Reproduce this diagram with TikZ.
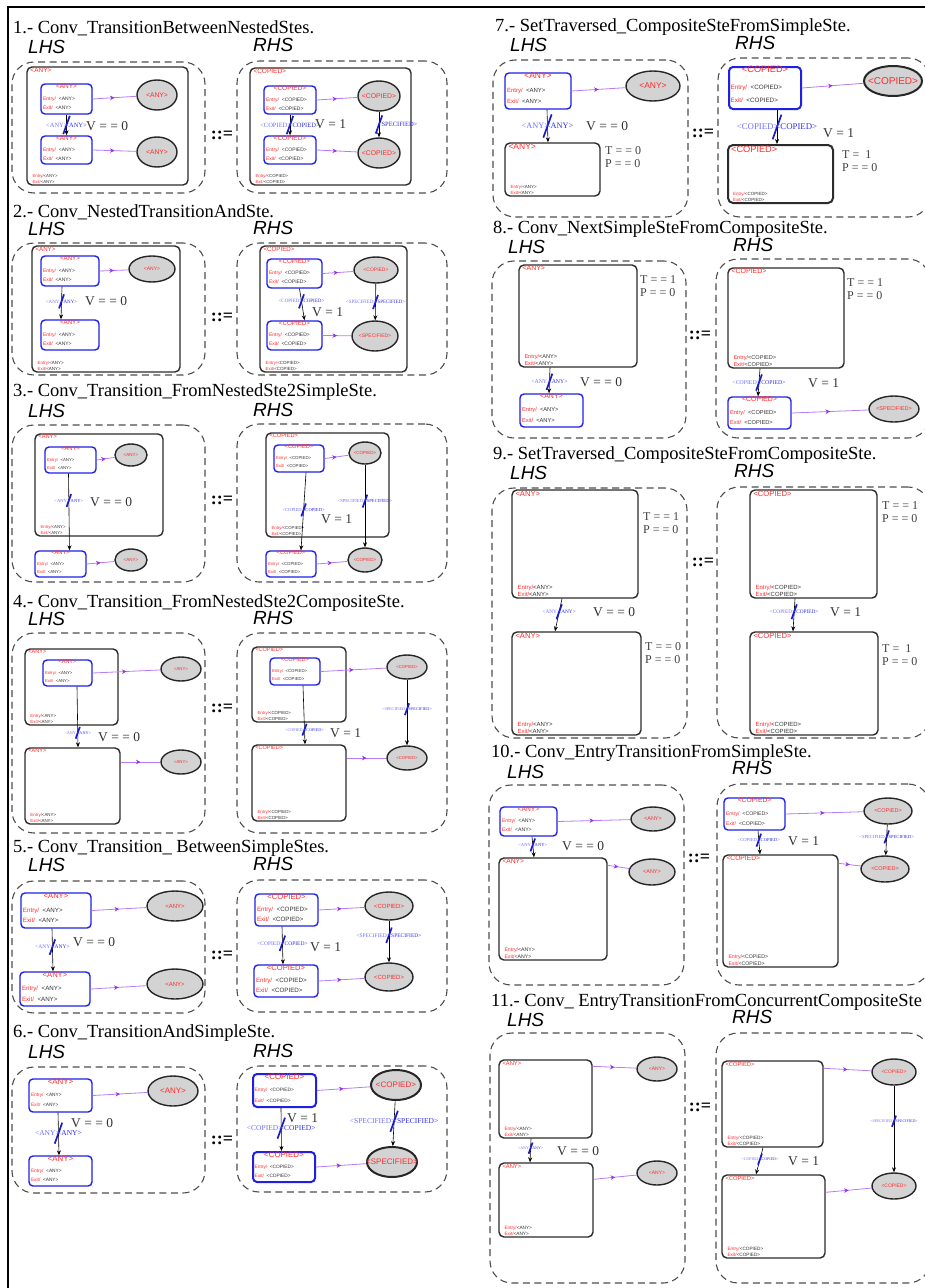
\documentclass[tikz,border=0pt]{standalone}
\usepackage{fontspec}
\setmainfont{Liberation Serif}
\setsansfont{Liberation Sans}
\usetikzlibrary{arrows.meta,fit,calc,shapes.geometric,decorations.markings}
\definecolor{stateblue}{HTML}{1F1FE6}
\definecolor{compgrey}{HTML}{2B2B2B}
\definecolor{rulegrey}{HTML}{4D4D4D}
\definecolor{pseudobg}{HTML}{D3D3D3}
\definecolor{namered}{HTML}{FF2B2B}
\definecolor{evtviolet}{HTML}{B77CF2}
\definecolor{evthead}{HTML}{9B2FF0}
\definecolor{guardlight}{HTML}{6F6FFF}
\definecolor{guarddark}{HTML}{2F2FE6}
\definecolor{slashblue}{HTML}{1B1BC4}
\newcommand{\stsz}{6}
\newcommand{\ensz}{5}
\newcommand{\gsz}{6}
\newcommand{\csz}{5}
\newcommand{\esz}{6}
\tikzset{
  outline/.style={draw=black, line width=1.4pt},
  ttl/.style={anchor=west, inner sep=0pt, font=\fontsize{18.5}{20}\selectfont},
  sidelbl/.style={anchor=west, inner sep=0pt, font=\sffamily\itshape\fontsize{19}{20}\selectfont},
  rulebox/.style={draw=rulegrey, dash pattern=on 7pt off 4.5pt, rounded corners=22pt,
                  line width=1.1pt, inner sep=0pt},
  defsym/.style={inner sep=0pt, font=\bfseries\fontsize{18}{18}\selectfont},
  simple/.style={draw=stateblue, rounded corners=4pt, line width=1.4pt, inner sep=0pt},
  comp/.style={draw=compgrey, rounded corners=5pt, line width=1.4pt, inner sep=0pt},
  pseudo/.style={ellipse, draw=black!85, fill=pseudobg, line width=1.4pt, inner sep=0pt},
  sname/.style={text=namered, inner sep=0pt, font=\sffamily\fontsize{\stsz}{\stsz}\selectfont},
  pname/.style={text=namered, inner sep=0pt, font=\sffamily\fontsize{\esz}{\esz}\selectfont},
  entxt/.style={anchor=west, inner sep=0pt, text=black!80,
                font=\sffamily\fontsize{\ensz}{\ensz}\selectfont},
  centry/.style={anchor=south west, inner xsep=0pt, inner ysep=0.6pt, text=black!80,
                 font=\sffamily\fontsize{\csz}{\csz}\selectfont},
  cond/.style={anchor=west, inner sep=0pt, text=black!80, font=\fontsize{13.5}{14}\selectfont},
  tp/.style={anchor=north west, inner sep=0pt, align=left, text=black!75,
             font=\fontsize{12}{13.5}\selectfont},
  trn/.style={-{Stealth[length=5pt, width=4pt]}, draw=black, line width=0.6pt},
  evt/.style={draw=evtviolet, line width=0.8pt, postaction={decorate},
    decoration={markings, mark=at position 0.5 with
      {\arrow{Stealth[length=4.5pt, width=4.5pt, color=evthead]}}}},
  slash/.style={draw=slashblue, line width=1.7pt},
  gleft/.style={anchor=east, inner sep=0pt, text=guardlight, font=\fontsize{\gsz}{\gsz}\selectfont},
  gright/.style={anchor=west, inner sep=0pt, text=guarddark, font=\fontsize{\gsz}{\gsz}\selectfont},
}

\begin{document}
\begin{tikzpicture}[x=1pt, y=-1pt]
\useasboundingbox (0,0) rectangle (924,1288);

\newcommand{\setsizes}[5]{%
  \renewcommand{\stsz}{#1}\renewcommand{\ensz}{#2}\renewcommand{\gsz}{#3}%
  \renewcommand{\csz}{#4}\renewcommand{\esz}{#5}}
\newcommand{\sste}[5][]{% simple state
  \node[simple, #1, fit={#3 #4}] (#2) {};
  \node[sname, anchor=north] (#2-n) at ([yshift=-0.3pt]#2.north) {<#5>};
  \node[entxt] (#2-en) at ($(#2.north west)!0.5!(#2.south west)+(2.5,0)$)
    {\textcolor{namered}{Entry/}\ \ <#5>};
  \node[entxt] (#2-ex) at ($(#2.north west)!0.78!(#2.south west)+(2.5,0)$)
    {\textcolor{namered}{Exit/}\ \ <#5>};
}
\newcommand{\cste}[5][]{% composite state
  \node[comp, #1, fit={#3 #4}] (#2) {};
  \node[sname, anchor=north west] (#2-n) at ($(#2.north west)+(4,1.5)$) {<#5>};
  \node[centry] (#2-ex) at ($(#2.south west)+(6,-1.5)$) {\textcolor{namered}{Exit/}<#5>};
  \node[centry] (#2-en) at (#2-ex.north west) {\textcolor{namered}{Entry/}<#5>};
}
\newcommand{\pste}[6][]{% pseudostate ellipse
  \node[pseudo, #1, minimum width=#4, minimum height=#5] (#2) at #3 {};
  \node[pname] (#2-n) at (#2) {<#6>};
}
\newcommand{\guard}[3]{% blue slash and guard texts
  \draw[slash] ($(#1)+(-0.5*\gsz,1.4*\gsz)$) -- ($(#1)+(0.5*\gsz,-1.4*\gsz)$);
  \node[gleft] (#1-a) at ($(#1)+(0.2*\gsz,0)$) {#2};
  \node[gright] (#1-b) at ($(#1)+(-0.2*\gsz,0)$) {#3};
}

\draw[outline] (8,1290) -- (8,7) -- (926,7);

% ============================================ 1
\setsizes{6.5}{5}{6.5}{4.3}{6.8}
\node[ttl] (r1-t) at (13,28) {1.- Conv\_TransitionBetweenNestedStes.};
\node[sidelbl] (r1-l) at (28,47) {LHS};
\node[sidelbl] (r1-r) at (253,45) {RHS};
\node[rulebox, fit={(12,62) (205,193)}] (r1-lhs) {};
\node[rulebox, fit={(237,61) (447,193)}] (r1-rhs) {};
\node[defsym] (r1-d) at (222,135) {::=};
\cste{r1-c1}{(27,67)}{(188,185)}{ANY}
\sste{r1-s1}{(41,84)}{(92,114)}{ANY}
\sste{r1-s2}{(41,136)}{(92,164)}{ANY}
\pste{r1-e1}{(157,95)}{40}{30}{ANY}
\pste{r1-e2}{(157,152)}{40}{30}{ANY}
\draw[evt] (r1-s1.east) -- (r1-e1);
\draw[evt] (r1-s2.east) -- (r1-e2);
\draw[trn] (r1-s1) -- (r1-s2) coordinate[pos=0.5] (r1-g1);
\guard{r1-g1}{<ANY>}{<ANY>}
\node[cond] (r1-v1) at (86,126) {V = = 0};
\cste{r1-c2}{(250,68)}{(411,185)}{COPIED}
\sste{r1-s3}{(264,86)}{(316,114)}{COPIED}
\sste{r1-s4}{(264,136)}{(316,164)}{COPIED}
\pste{r1-e3}{(379,96)}{42}{30}{COPIED}
\pste{r1-e4}{(379,153)}{42}{30}{COPIED}
\draw[evt] (r1-s3.east) -- (r1-e3);
\draw[evt] (r1-s4.east) -- (r1-e4);
\draw[trn] (r1-s3) -- (r1-s4) coordinate[pos=0.5] (r1-g2);
\guard{r1-g2}{<COPIED>}{<COPIED>}
\draw[trn] (r1-e3) -- (r1-e4) coordinate[pos=0.5] (r1-g3);
\guard{r1-g3}{}{<SPECIFIED>}
\node[cond] (r1-v2) at (315,124) {V = 1};

% ============================================ 2
\setsizes{6.2}{5}{5}{4.5}{5}
\node[ttl] (r2-t) at (13,212) {2.- Conv\_NestedTransitionAndSte.};
\node[sidelbl] (r2-l) at (28,229) {LHS};
\node[sidelbl] (r2-r) at (253,228) {RHS};
\node[rulebox, fit={(12,243) (205,375)}] (r2-lhs) {};
\node[rulebox, fit={(237,243) (447,375)}] (r2-rhs) {};
\node[defsym] (r2-d) at (222,317) {::=};
\cste{r2-c1}{(32,246)}{(180,372)}{ANY}
\sste{r2-s1}{(41,256)}{(99,286)}{ANY}
\sste{r2-s2}{(41,320)}{(99,350)}{ANY}
\pste{r2-e1}{(152,269)}{46}{26}{ANY}
\draw[evt] (r2-s1.east) -- (r2-e1);
\draw[trn] ([xshift=-8pt]r2-s1.south) -- ([xshift=-9pt]r2-s2.north) coordinate[pos=0.45] (r2-g1);
\guard{r2-g1}{<ANY>}{<ANY>}
\node[cond] (r2-v1) at (85,301) {V = = 0};
\cste{r2-c2}{(260,246)}{(407,372)}{COPIED}
\sste{r2-s3}{(267,259)}{(322,288)}{COPIED}
\sste{r2-s4}{(267,321)}{(322,350)}{COPIED}
\pste{r2-e3}{(376,270)}{44}{26}{COPIED}
\pste{r2-e4}{(375,336)}{46}{30}{SPECIFIED}
\draw[evt] (r2-s3.east) -- (r2-e3);
\draw[evt] (r2-s4.east) -- (r2-e4);
\draw[trn] ([xshift=5pt]r2-s3.south) -- ([xshift=10pt]r2-s4.north) coordinate[pos=0.4] (r2-g2);
\guard{r2-g2}{<COPIED>}{<COPIED>}
\draw[trn] (r2-e3) -- (r2-e4) coordinate[pos=0.5] (r2-g3);
\guard{r2-g3}{<SPECIFIED>}{<SPECIFIED>}
\node[cond] (r2-v2) at (312,312) {V = 1};

% ============================================ 3
\setsizes{5.7}{4.3}{4.6}{4.3}{4.5}
\node[ttl] (r3-t) at (13,392) {3.- Conv\_Transition\_FromNestedSte2SimpleSte.};
\node[sidelbl] (r3-l) at (28,411) {LHS};
\node[sidelbl] (r3-r) at (253,410) {RHS};
\node[rulebox, fit={(12,425) (205,582)}] (r3-lhs) {};
\node[rulebox, fit={(237,424) (447,582)}] (r3-rhs) {};
\node[defsym] (r3-d) at (222,500) {::=};
\cste{r3-c1}{(35,434)}{(163,536)}{ANY}
\sste{r3-s1}{(45,447)}{(96,473)}{ANY}
\sste{r3-s2}{(35,551)}{(86,577)}{ANY}
\pste{r3-e1}{(131,455)}{32}{22}{ANY}
\pste{r3-e2}{(131,560)}{32}{22}{ANY}
\draw[evt] (r3-s1.east) -- (r3-e1);
\draw[evt] (r3-s2.east) -- (r3-e2);
\draw[trn] ([xshift=-2pt]r3-s1.south) -- ([xshift=9pt]r3-s2.north) coordinate[pos=0.35] (r3-g1);
\guard{r3-g1}{<ANY>}{<ANY>}
\node[cond] (r3-v1) at (90,502) {V = = 0};
\cste{r3-c2}{(266,433)}{(389,537)}{COPIED}
\sste{r3-s3}{(274,445)}{(324,472)}{COPIED}
\sste{r3-s4}{(266,551)}{(316,577)}{COPIED}
\pste{r3-e3}{(365,453)}{32}{22}{COPIED}
\pste{r3-e4}{(365,560)}{34}{24}{COPIED}
\draw[evt] (r3-s3.east) -- (r3-e3);
\draw[evt] (r3-s4.east) -- (r3-e4);
\draw[trn] ([xshift=7pt]r3-s3.south) -- ([xshift=10pt]r3-s4.north) coordinate[pos=0.48] (r3-g2);
\guard{r3-g2}{<COPIED>}{<COPIED>}
\draw[trn] (r3-e3) -- (r3-e4) coordinate[pos=0.44] (r3-g3);
\guard{r3-g3}{<SPECIFIED>}{<SPECIFIED>}
\node[cond] (r3-v2) at (321,519) {V = 1};

% ============================================ 4
\setsizes{5.5}{4.3}{4.2}{4.4}{4.3}
\node[ttl] (r4-t) at (13,603) {4.- Conv\_Transition\_FromNestedSte2CompositeSte.};
\node[sidelbl] (r4-l) at (28,619) {LHS};
\node[sidelbl] (r4-r) at (253,618) {RHS};
\node[rulebox, fit={(12,633) (205,833)}] (r4-lhs) {};
\node[rulebox, fit={(237,633) (447,833)}] (r4-rhs) {};
\node[defsym] (r4-d) at (222,708) {::=};
\cste{r4-c1}{(25,649)}{(118,725)}{ANY}
\sste{r4-s1}{(43,660)}{(92,686)}{ANY}
\cste{r4-c2}{(25,748)}{(120,824)}{ANY}
\pste{r4-e1}{(181,669)}{40}{24}{ANY}
\pste{r4-e2}{(181,762)}{40}{24}{ANY}
\draw[evt] (r4-s1.east) -- (r4-e1);
\draw[evt] (r4-c2.east |- r4-e2) -- (r4-e2);
\draw[trn] ([xshift=9.5pt]r4-s1.south) -- ([xshift=5.5pt]r4-c2.north) coordinate[pos=0.76] (r4-g1);
\guard{r4-g1}{<ANY>}{<ANY>}
\node[cond] (r4-v1) at (98,737) {V = = 0};
\cste{r4-c3}{(252,647)}{(346,722)}{COPIED}
\sste{r4-s3}{(270,658)}{(320,685)}{COPIED}
\cste{r4-c4}{(252,745)}{(346,821)}{COPIED}
\pste{r4-e3}{(407,667)}{40}{24}{COPIED}
\pste{r4-e4}{(407,758)}{40}{24}{COPIED}
\draw[evt] (r4-s3.east) -- (r4-e3);
\draw[evt] (r4-c4.east |- r4-e4) -- (r4-e4);
\draw[trn] ([xshift=8pt]r4-s3.south) -- ([xshift=6pt]r4-c4.north) coordinate[pos=0.75] (r4-g2);
\guard{r4-g2}{<COPIED>}{<COPIED>}
\draw[trn] (r4-e3) -- (r4-e4) coordinate[pos=0.45] (r4-g3);
\guard{r4-g3}{<SPECIFIED>}{<SPECIFIED>}
\node[cond] (r4-v2) at (330,733) {V = 1};

% ============================================ 5
\setsizes{7.6}{6.2}{5.5}{5}{6}
\node[ttl] (r5-t) at (13,848) {5.- Conv\_Transition\_ BetweenSimpleStes.};
\node[sidelbl] (r5-l) at (28,865) {LHS};
\node[sidelbl] (r5-r) at (253,864) {RHS};
\node[rulebox, fit={(12,881) (205,1013)}] (r5-lhs) {};
\node[rulebox, fit={(237,880) (447,1012)}] (r5-rhs) {};
\node[defsym] (r5-d) at (222,955) {::=};
\sste{r5-s1}{(21,893)}{(91,928)}{ANY}
\sste{r5-s2}{(20,972)}{(90,1006)}{ANY}
\pste{r5-e1}{(175,906)}{56}{30}{ANY}
\pste{r5-e2}{(175,984)}{56}{30}{ANY}
\draw[evt] (r5-s1.east) -- (r5-e1);
\draw[evt] (r5-s2.east) -- (r5-e2);
\draw[trn] ([xshift=-4pt]r5-s1.south) -- ([xshift=-2pt]r5-s2.north) coordinate[pos=0.43] (r5-g1);
\guard{r5-g1}{<ANY>}{<ANY>}
\node[cond] (r5-v1) at (73,942) {V = = 0};
\sste{r5-s3}{(255,894)}{(318,926)}{COPIED}
\sste{r5-s4}{(254,965)}{(318,997)}{COPIED}
\pste{r5-e3}{(389,906)}{48}{28}{COPIED}
\pste{r5-e4}{(389,977)}{48}{28}{COPIED}
\draw[evt] (r5-s3.east) -- (r5-e3);
\draw[evt] (r5-s4.east) -- (r5-e4);
\draw[trn] ([xshift=-4.5pt]r5-s3.south) -- ([xshift=-3pt]r5-s4.north) coordinate[pos=0.44] (r5-g2);
\guard{r5-g2}{<COPIED>}{<COPIED>}
\draw[trn] (r5-e3) -- (r5-e4) coordinate[pos=0.35] (r5-g3);
\guard{r5-g3}{<SPECIFIED>}{<SPECIFIED>}
\node[cond] (r5-v2) at (310,947) {V = 1};

% ============================================ 6
\setsizes{7.9}{4.8}{7.5}{5}{8}
\node[ttl] (r6-t) at (13,1033) {6.- Conv\_TransitionAndSimpleSte.};
\node[sidelbl] (r6-l) at (28,1052) {LHS};
\node[sidelbl] (r6-r) at (253,1051) {RHS};
\node[rulebox, fit={(12,1067) (205,1193)}] (r6-lhs) {};
\node[rulebox, fit={(237,1066) (447,1192)}] (r6-rhs) {};
\node[defsym] (r6-d) at (222,1140) {::=};
\sste{r6-s1}{(29,1079)}{(92,1112)}{ANY}
\sste{r6-s2}{(29,1156)}{(92,1186)}{ANY}
\pste{r6-e1}{(173,1091)}{50}{30}{ANY}
\draw[evt] (r6-s1.east) -- (r6-e1);
\draw[trn] ([xshift=-2.5pt]r6-s1.south) -- ([xshift=-1.5pt]r6-s2.north) coordinate[pos=0.48] (r6-g1);
\guard{r6-g1}{<ANY>}{<ANY>}
\node[cond] (r6-v1) at (71,1123) {V = = 0};
\sste[line width=2pt]{r6-s3}{(253,1074)}{(316,1107)}{COPIED}
\sste[line width=2pt]{r6-s4}{(253,1152)}{(315,1182)}{COPIED}
\pste[line width=2pt]{r6-e3}{(396,1085)}{50}{30}{COPIED}
\pste[line width=2pt]{r6-e4}{(392,1162)}{50}{30}{SPECIFIED}
\draw[evt] (r6-s3.east) -- (r6-e3);
\draw[evt] (r6-s4.east) -- (r6-e4);
\draw[trn] ([xshift=-3.5pt]r6-s3.south) -- ([xshift=-2.5pt]r6-s4.north) coordinate[pos=0.47] (r6-g2);
\guard{r6-g2}{<COPIED>}{<COPIED>}
\draw[trn] (r6-e3) -- (r6-e4) coordinate[pos=0.45] (r6-g3);
\guard{r6-g3}{<SPECIFIED>}{<SPECIFIED>}
\node[cond] (r6-v2) at (287,1118) {V = 1};

% ============================================ 7
\setsizes{8.5}{6}{8.3}{4.5}{8.5}
\node[ttl] (r7-t) at (495,27) {7.- SetTraversed\_CompositeSteFromSimpleSte.};
\node[sidelbl] (r7-l) at (510,45) {LHS};
\node[sidelbl] (r7-r) at (735,43) {RHS};
\node[rulebox, fit={(493,60) (688,217)}] (r7-lhs) {};
\node[rulebox, fit={(718,58) (930,217)}] (r7-rhs) {};
\node[defsym] (r7-d) at (703,133) {::=};
\sste{r7-s1}{(505,73)}{(571,109)}{ANY}
\cste{r7-c1}{(505,143)}{(600,196)}{ANY}
\pste{r7-e1}{(653,86)}{54}{30}{ANY}
\draw[evt] (r7-s1.east) -- (r7-e1);
\draw[trn] ([xshift=9pt]r7-s1.south) -- ([xshift=-4.5pt]r7-c1.north) coordinate[pos=0.5] (r7-g1);
\guard{r7-g1}{<ANY>}{<ANY>}
\node[cond] (r7-v1) at (586,126) {V = = 0};
\node[tp] (r7-tp1) at (605,146) {T = = 0\\P = = 0};
\setsizes{9.2}{6.3}{8.8}{4.5}{10}
\sste[line width=2pt]{r7-s3}{(729,67)}{(801,109)}{COPIED}
\cste[line width=2pt]{r7-c3}{(728,145)}{(833,203)}{COPIED}
\pste[line width=2pt]{r7-e3}{(893,81)}{58}{30}{COPIED}
\draw[evt] (r7-s3.east) -- (r7-e3);
\draw[trn] ([xshift=12pt]r7-s3.south) -- ([xshift=-3.5pt]r7-c3.north) coordinate[pos=0.5] (r7-g2);
\guard{r7-g2}{<COPIED>}{<COPIED>}
\node[cond] (r7-v2) at (823,133) {V = 1};
\node[tp] (r7-tp2) at (842,150) {T = \ 1\\P = = 0};

% ============================================ 8
\setsizes{7}{5.7}{5.8}{5.6}{5.5}
\node[ttl] (r8-t) at (493,229) {8.- Conv\_NextSimpleSteFromCompositeSte.};
\node[sidelbl] (r8-l) at (508,247) {LHS};
\node[sidelbl] (r8-r) at (733,245) {RHS};
\node[rulebox, fit={(492,261) (686,438)}] (r8-lhs) {};
\node[rulebox, fit={(716,259) (930,438)}] (r8-rhs) {};
\node[defsym] (r8-d) at (700,335) {::=};
\cste{r8-c1}{(519,265)}{(637,367)}{ANY}
\node[tp] (r8-tp1) at (640,275) {T = = 1\\P = = 0};
\sste{r8-s1}{(520,394)}{(583,427)}{ANY}
\draw[trn] ([xshift=-28pt]r8-c1.south) -- ([xshift=-2.5pt]r8-s1.north) coordinate[pos=0.55] (r8-g1);
\guard{r8-g1}{<ANY>}{<ANY>}
\node[cond] (r8-v1) at (580,382) {V = = 0};
\cste{r8-c3}{(728,268)}{(844,368)}{COPIED}
\node[tp] (r8-tp2) at (847,278) {T = = 1\\P = = 0};
\sste{r8-s3}{(728,397)}{(791,429)}{COPIED}
\pste{r8-e3}{(894,409)}{50}{26}{SPECIFIED}
\draw[evt] (r8-s3.east) -- (r8-e3);
\draw[trn] ([xshift=-26pt]r8-c3.south) -- ([xshift=-1.5pt]r8-s3.north) coordinate[pos=0.5] (r8-g2);
\guard{r8-g2}{<COPIED>}{<COPIED>}
\node[cond] (r8-v2) at (808,383) {V = 1};

% ============================================ 9
\setsizes{7.6}{6}{5.3}{6}{6}
\node[ttl] (r9-t) at (493,455) {9.- SetTraversed\_CompositeSteFromCompositeSte.};
\node[sidelbl] (r9-l) at (510,473) {LHS};
\node[sidelbl] (r9-r) at (734,471) {RHS};
\node[rulebox, fit={(492,488) (687,738)}] (r9-lhs) {};
\node[rulebox, fit={(717,487) (930,738)}] (r9-rhs) {};
\node[defsym] (r9-d) at (703,562) {::=};
\cste{r9-c1}{(512,490)}{(638,598)}{ANY}
\node[tp] (r9-tp1) at (643,512) {T = = 1\\P = = 0};
\cste{r9-c2}{(512,632)}{(641,735)}{ANY}
\node[tp] (r9-tp2) at (645,642) {T = = 0\\P = = 0};
\draw[trn] ([xshift=-13pt]r9-c1.south) -- ([xshift=-21.5pt]r9-c2.north) coordinate[pos=0.4] (r9-g1);
\guard{r9-g1}{<ANY>}{<ANY>}
\node[cond] (r9-v1) at (593,612) {V = = 0};
\cste{r9-c3}{(750,490)}{(877,598)}{COPIED}
\node[tp] (r9-tp3) at (882,501) {T = = 1\\P = = 0};
\cste{r9-c4}{(750,632)}{(878,735)}{COPIED}
\node[tp] (r9-tp4) at (882,644) {T = \ 1\\P = = 0};
\draw[trn] ([xshift=-18.5pt]r9-c3.south) -- ([xshift=-21pt]r9-c4.north) coordinate[pos=0.4] (r9-g2);
\guard{r9-g2}{<COPIED>}{<COPIED>}
\node[cond] (r9-v2) at (830,612) {V = 1};

% ============================================ 10
\setsizes{6.7}{5.2}{4.6}{5.2}{5.5}
\node[ttl] (r10-t) at (491,753) {10.- Conv\_EntryTransitionFromSimpleSte.};
\node[sidelbl] (r10-l) at (507,772) {LHS};
\node[sidelbl] (r10-r) at (732,768) {RHS};
\node[rulebox, fit={(489,785) (684,985)}] (r10-lhs) {};
\node[rulebox, fit={(717,784) (930,985)}] (r10-rhs) {};
\node[defsym] (r10-d) at (699,858) {::=};
\sste{r10-s1}{(500,807)}{(557,836)}{ANY}
\cste{r10-c2}{(499,858)}{(607,960)}{ANY}
\pste{r10-e1}{(653,819)}{44}{24}{ANY}
\pste{r10-e2}{(652,872)}{46}{26}{ANY}
\draw[evt] (r10-s1.east) -- (r10-e1);
\draw[evt] ([yshift=-8pt]r10-c2.north east) -- (r10-e2);
\draw[trn] ([xshift=3.5pt]r10-s1.south) -- ([xshift=-19pt]r10-c2.north) coordinate[pos=0.4] (r10-g1);
\guard{r10-g1}{<ANY>}{<ANY>}
\node[cond] (r10-v1) at (562,846) {V = = 0};
\sste{r10-s3}{(724,798)}{(785,830)}{COPIED}
\cste{r10-c4}{(723,855)}{(838,967)}{COPIED}
\pste{r10-e3}{(888,811)}{48}{26}{COPIED}
\pste{r10-e4}{(885,869)}{48}{26}{COPIED}
\draw[evt] (r10-s3.east) -- (r10-e3);
\draw[evt] ([yshift=-9pt]r10-c4.north east) -- (r10-e4);
\draw[trn] ([xshift=3.5pt]r10-s3.south) -- ([xshift=-20.5pt]r10-c4.north) coordinate[pos=0.4] (r10-g2);
\guard{r10-g2}{<COPIED>}{<COPIED>}
\draw[trn] (r10-e3) -- (r10-e4) coordinate[pos=0.4] (r10-g3);
\guard{r10-g3}{<SPECIFIED>}{<SPECIFIED>}
\node[cond] (r10-v2) at (788,841) {V = 1};

% ============================================ 11
\setsizes{5.8}{4.5}{4}{4.7}{5}
\node[ttl] (r11-t) at (491,1002) {11.- Conv\_ EntryTransitionFromConcurrentCompositeSte};
\node[sidelbl] (r11-l) at (507,1020) {LHS};
\node[sidelbl] (r11-r) at (732,1017) {RHS};
\node[rulebox, fit={(490,1033) (685,1283)}] (r11-lhs) {};
\node[rulebox, fit={(716,1033) (930,1283)}] (r11-rhs) {};
\node[defsym] (r11-d) at (700,1107) {::=};
\cste{r11-c1}{(499,1060)}{(592,1138)}{ANY}
\cste{r11-c2}{(499,1163)}{(593,1237)}{ANY}
\pste{r11-e1}{(657,1069)}{40}{24}{ANY}
\pste{r11-e2}{(657,1173)}{40}{24}{ANY}
\draw[evt] ([yshift=-7pt]r11-c1.north east) -- (r11-e1);
\draw[evt] ([yshift=-17pt]r11-c2.north east) -- (r11-e2);
\draw[trn] ([xshift=-14.5pt]r11-c1.south) -- ([xshift=-16pt]r11-c2.north) coordinate[pos=0.4] (r11-g1);
\guard{r11-g1}{<ANY>}{<ANY>}
\node[cond] (r11-v1) at (557,1151) {V = = 0};
\cste{r11-c3}{(722,1061)}{(823,1147)}{COPIED}
\cste{r11-c4}{(722,1175)}{(825,1258)}{COPIED}
\pste{r11-e3}{(894,1072)}{44}{26}{COPIED}
\pste{r11-e4}{(894,1186)}{44}{26}{COPIED}
\draw[evt] ([yshift=-8pt]r11-c3.north east) -- (r11-e3);
\draw[evt] ([yshift=-18pt]r11-c4.north east) -- (r11-e4);
\draw[trn] ([xshift=-9.5pt]r11-c3.south) -- ([xshift=-17.5pt]r11-c4.north) coordinate[pos=0.43] (r11-g2);
\guard{r11-g2}{<COPIED>}{<COPIED>}
\draw[trn] (r11-e3) -- (r11-e4) coordinate[pos=0.41] (r11-g3);
\guard{r11-g3}{<SPECIFIED>}{<SPECIFIED>}
\node[cond] (r11-v2) at (788,1161) {V = 1};

\end{tikzpicture}
\end{document}
